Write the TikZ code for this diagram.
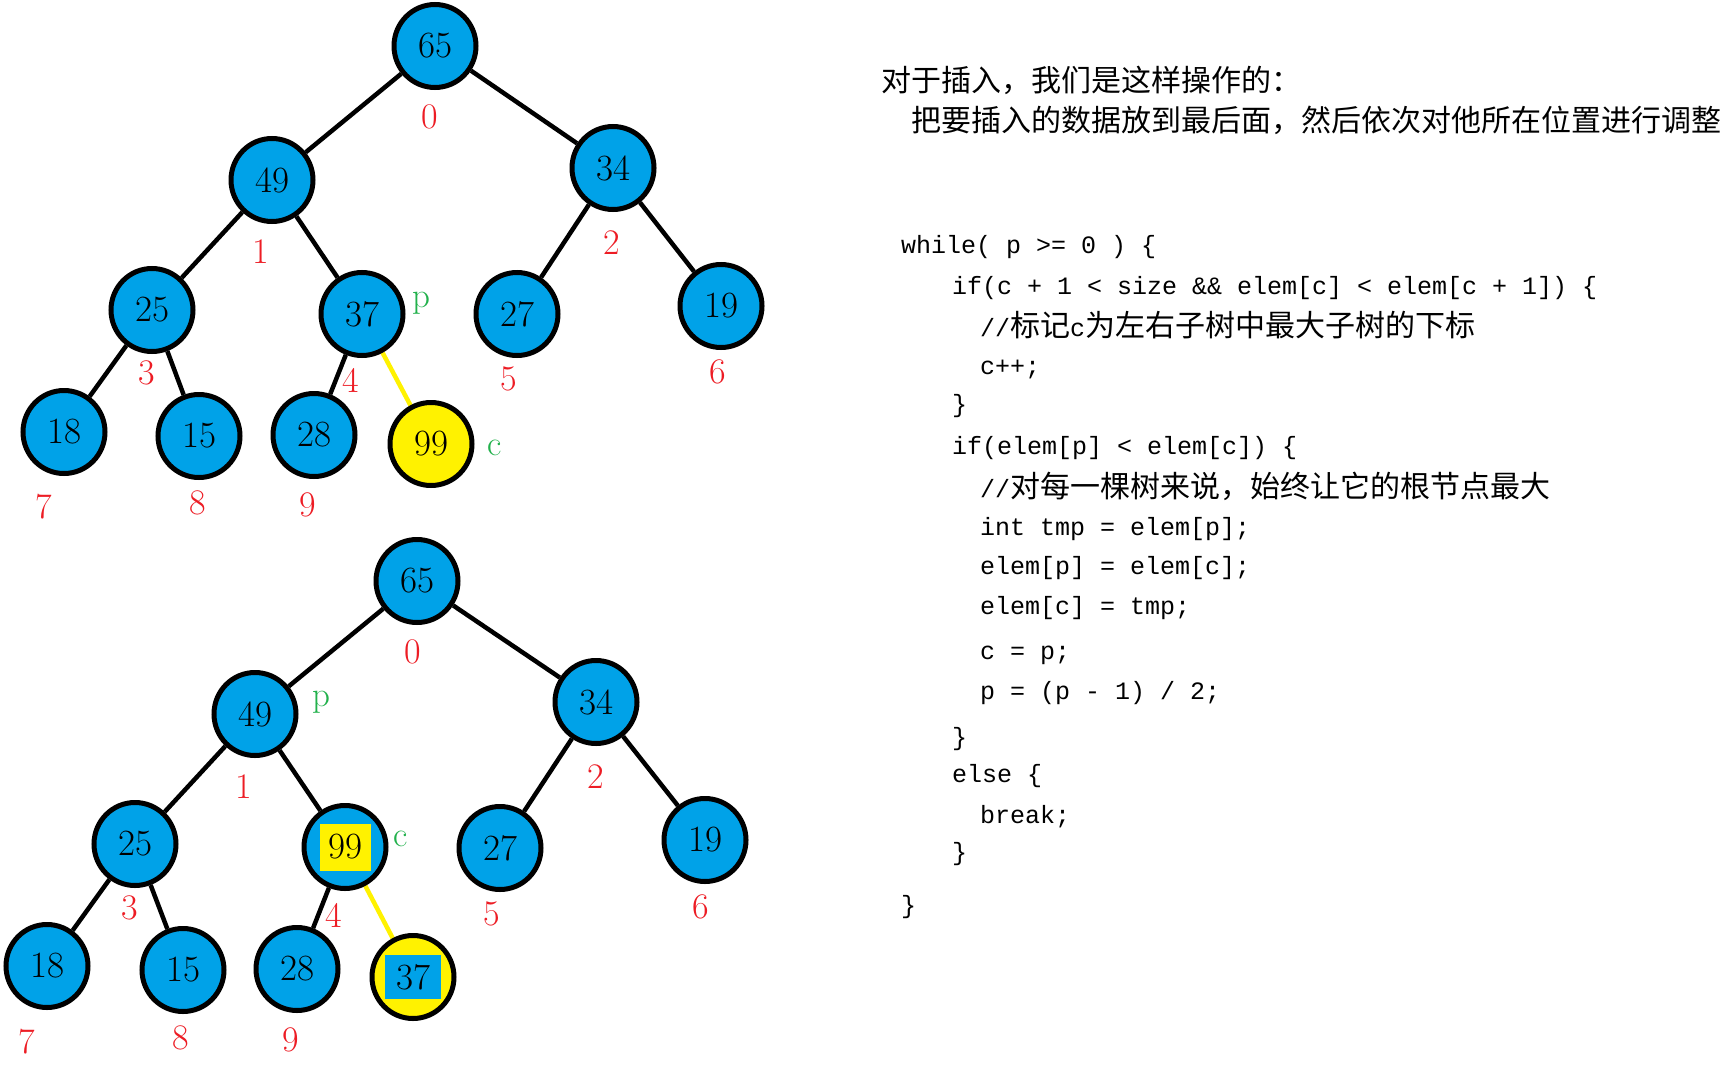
\documentclass[tikz,border=0pt]{standalone}
\usepackage{fontspec}
\usetikzlibrary{shapes.geometric}
\newfontfamily\cjkfont{Noto Sans CJK SC}
\newfontfamily\codefont{Liberation Mono}
\definecolor{nodeblue}{RGB}{0,162,232}
\definecolor{hlyellow}{RGB}{255,242,0}
\definecolor{idxred}{RGB}{237,28,36}
\definecolor{ptrgreen}{RGB}{34,177,76}
\pgfdeclarelayer{bottomlayer}
\pgfdeclarelayer{edgelayer}
\pgfsetlayers{bottomlayer,edgelayer,main}
\begin{document}
\begin{tikzpicture}[x=1pt,y=-1pt,
  hn/.style={ellipse, draw=black, line width=5pt, fill=nodeblue, minimum width=82pt, minimum height=83pt, inner sep=0pt, font=\fontsize{37}{40}\selectfont},
  idx/.style={text=idxred, inner sep=0pt, font=\fontsize{36}{38}\selectfont},
  ptr/.style={text=ptrgreen, inner sep=0pt, font=\fontsize{35}{38}\selectfont},
  treeedge/.style={line width=4.5pt, draw=black},
  yedge/.style={line width=4.5pt, draw=hlyellow},
  hl/.style={inner sep=0pt, minimum width=51pt, minimum height=47pt, font=\fontsize{37}{40}\selectfont},
  head/.style={anchor=base west, inner sep=0pt, font=\cjkfont\fontsize{30}{32}\selectfont},
  codeline/.style={anchor=base west, inner sep=0pt, font=\codefont\fontsize{25}{28}\selectfont}
]
\useasboundingbox (0,0) rectangle (1731,1081);
\begin{pgfonlayer}{bottomlayer}
\fill[white] (0,0) rectangle (1731,1081);
\end{pgfonlayer}

% ---------- top tree ----------
\node[hn] (t65) at (435,46) {65};
\node[hn] (t49) at (272,180) {49};
\node[hn] (t34) at (613,168) {34};
\node[hn] (t25) at (152,310) {25};
\node[hn] (t37) at (362,314) {37};
\node[hn] (t27) at (517,314) {27};
\node[hn] (t19) at (721,306) {19};
\node[hn] (t18) at (64,432) {18};
\node[hn] (t15) at (199,436) {15};
\node[hn] (t28) at (314,435) {28};
\node[hn, fill=hlyellow] (t99) at (431,444) {99};

\node[idx] (tl0) at (430,117) {0};
\node[idx] (tl1) at (261,252) {1};
\node[idx] (tl2) at (612,243) {2};
\node[idx] (tl3) at (147,373) {3};
\node[idx] (tl4) at (351,380) {4};
\node[idx] (tl5) at (509,379) {5};
\node[idx] (tl6) at (718,372) {6};
\node[idx] (tl7) at (44,507) {7};
\node[idx] (tl8) at (198,503) {8};
\node[idx] (tl9) at (308,505) {9};
\node[ptr] (tp) at (421,303) {p};
\node[ptr] (tc) at (495,448) {c};

\begin{pgfonlayer}{edgelayer}
\draw[treeedge] (t65) -- (t49);
\draw[treeedge] (t65) -- (t34);
\draw[treeedge] (t49) -- (t25);
\draw[treeedge] (t49) -- (t37);
\draw[treeedge] (t34) -- (t27);
\draw[treeedge] (t34) -- (t19);
\draw[treeedge] (t25) -- (t18);
\draw[treeedge] (t25) -- (t15);
\draw[treeedge] (t37) -- (t28);
\draw[yedge] (t37) -- (t99);
\end{pgfonlayer}

% ---------- bottom tree ----------
\node[hn] (b65) at (417,581) {65};
\node[hn] (b49) at (255,714) {49};
\node[hn] (b34) at (596,702) {34};
\node[hn] (b25) at (135,844) {25};
\node[hn] (b99) at (345,847) {};
\node[hl, fill=hlyellow] (b99t) at (b99) {99};
\node[hn] (b27) at (500,848) {27};
\node[hn] (b19) at (705,840) {19};
\node[hn] (b18) at (47,966) {18};
\node[hn] (b15) at (183,970) {15};
\node[hn] (b28) at (297,969) {28};
\node[hn, fill=hlyellow] (b37) at (413,977) {};
\node[hl, fill=nodeblue, minimum width=56pt, minimum height=44pt] (b37t) at (b37) {37};

\node[idx] (bl0) at (413,652) {0};
\node[idx] (bl1) at (244,787) {1};
\node[idx] (bl2) at (596,777) {2};
\node[idx] (bl3) at (130,908) {3};
\node[idx] (bl4) at (334,915) {4};
\node[idx] (bl5) at (492,914) {5};
\node[idx] (bl6) at (701,907) {6};
\node[idx] (bl7) at (27,1042) {7};
\node[idx] (bl8) at (181,1038) {8};
\node[idx] (bl9) at (291,1040) {9};
\node[ptr] (bp) at (321,702) {p};
\node[ptr] (bc) at (401,839) {c};

\begin{pgfonlayer}{edgelayer}
\draw[treeedge] (b65) -- (b49);
\draw[treeedge] (b65) -- (b34);
\draw[treeedge] (b49) -- (b25);
\draw[treeedge] (b49) -- (b99);
\draw[treeedge] (b34) -- (b27);
\draw[treeedge] (b34) -- (b19);
\draw[treeedge] (b25) -- (b18);
\draw[treeedge] (b25) -- (b15);
\draw[treeedge] (b99) -- (b28);
\draw[yedge] (b99) -- (b37);
\end{pgfonlayer}

% ---------- text ----------
\node[head] (h1) at (881,91) {对于插入，我们是这样操作的：};
\node[head] (h2) at (911,131) {把要插入的数据放到最后面，然后依次对他所在位置进行调整};

\node[codeline] (c1) at (901,253) {while( p >= 0 ) \{};
\node[codeline] (c2) at (952,294) {if(c + 1 < size \&\& elem[c] < elem[c + 1]) \{};
\node[codeline] (c3) at (980,336) {//{\cjkfont\fontsize{30}{32}\selectfont 标记}c{\cjkfont\fontsize{30}{32}\selectfont 为左右子树中最大子树的下标}};
\node[codeline] (c4) at (980,374) {c++;};
\node[codeline] (c5) at (952,412) {\}};
\node[codeline] (c6) at (952,454) {if(elem[p] < elem[c]) \{};
\node[codeline] (c7) at (980,497) {//{\cjkfont\fontsize{30}{32}\selectfont 对每一棵树来说，始终让它的根节点最大}};
\node[codeline] (c8) at (980,535) {int tmp = elem[p];};
\node[codeline] (c9) at (980,574) {elem[p] = elem[c];};
\node[codeline] (c10) at (980,614) {elem[c] = tmp;};
\node[codeline] (c11) at (980,659) {c = p;};
\node[codeline] (c12) at (980,699) {p = (p - 1) / 2;};
\node[codeline] (c13) at (952,745) {\}};
\node[codeline] (c14) at (952,782) {else \{};
\node[codeline] (c15) at (980,823) {break;};
\node[codeline] (c16) at (952,860) {\}};
\node[codeline] (c17) at (901,913) {\}};
\end{tikzpicture}
\end{document}
